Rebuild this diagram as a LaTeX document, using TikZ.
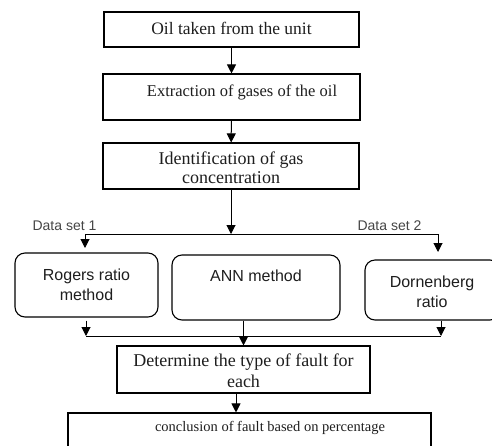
\documentclass[tikz,border=0pt]{standalone}
\usepackage{fontspec}
\setmainfont{Liberation Serif}
\newfontfamily\flowsans{Liberation Sans}
\usepackage{xcolor}
\usetikzlibrary{arrows.meta, positioning, calc}
\definecolor{FlowInk}{RGB}{0, 0, 0}
\definecolor{FlowText}{RGB}{30, 30, 30}
\definecolor{FlowMuted}{RGB}{70, 70, 70}

\tikzset{
  flowbox/.style={draw=FlowInk, line width=1.1pt, inner sep=0pt},
  methodbox/.style={flowbox, rounded corners=10pt},
  flowarrow/.style={draw=FlowInk, line width=1pt, -{Triangle[length=9pt, width=9pt]}},
  flowline/.style={draw=FlowInk, line width=1pt}
}

\begin{document}
\begin{tikzpicture}[x=1pt,y=-1pt]
  \path[use as bounding box] (0,0) rectangle (492,445);
  \fill[white] (0,0) rectangle (492,445);

  \node[flowbox, minimum width=255, minimum height=35] (oil) at (231.5,29.5) {};
  \node[flowbox, minimum width=257, minimum height=46] (extract) at (231.5,97) {};
  \node[flowbox, minimum width=256, minimum height=46] (ident) at (231,166) {};
  \node[methodbox, minimum width=143, minimum height=64] (rogers) at (86.5,285) {};
  \node[methodbox, minimum width=168, minimum height=65] (ann) at (256,287.5) {};
  \node[methodbox, minimum width=135, minimum height=60] (dorn) at (432.5,290) {};
  \node[flowbox, minimum width=253, minimum height=47] (fault) at (243.5,369.5) {};
  \node[flowbox, minimum width=363, minimum height=50] (concl) at (249.5,438) {};

  \node[align=center, text=FlowText, font=\fontsize{17.5}{19}\selectfont] (oil-t) at (231.5,28) {Oil taken from the unit};
  \node[align=center, text=FlowText, font=\fontsize{16.5}{18}\selectfont] (extract-t) at (242,92) {Extraction of gases of the oil};
  \node[align=center, text=FlowText, font=\fontsize{18}{19}\selectfont] (ident-t) at (231,168) {Identification of gas\\ concentration};
  \node[align=center, text=FlowText, font=\fontsize{16}{20}\selectfont\flowsans] (rogers-t) at (86.5,285) {Rogers ratio\\ method};
  \node[align=center, text=FlowText, font=\fontsize{16}{20}\selectfont\flowsans] (ann-t) at (256,276) {ANN method};
  \node[align=center, text=FlowText, font=\fontsize{16}{20}\selectfont\flowsans] (dorn-t) at (432,292) {Dornenberg\\ ratio};
  \node[align=center, text=FlowText, font=\fontsize{18}{21}\selectfont] (fault-t) at (243.5,371) {Determine the type of fault for\\ each};
  \node[align=center, text=FlowText, font=\fontsize{14.5}{17}\selectfont] (concl-t) at (270,428) {conclusion of fault based on percentage};

  \node[text=FlowMuted, font=\fontsize{14}{16}\selectfont\flowsans] (set1) at (64.5,226) {Data set 1};
  \node[text=FlowMuted, font=\fontsize{14}{16}\selectfont\flowsans] (set2) at (389.5,226) {Data set 2};

  \coordinate (split) at (231,234);
  \coordinate (split-l) at (85,234);
  \coordinate (split-r) at (438,234);
  \coordinate (merge-l) at (86,336);
  \coordinate (merge-r) at (441,336);

  \draw[flowarrow] (oil) -- (extract);
  \draw[flowarrow] (extract) -- (ident);
  \draw[flowarrow] (ident) -- (split);
  \draw[flowline] (split-l) -- (split-r);
  \draw[flowarrow] (split-l) -- ++(0,14);
  \draw[flowarrow] (split-r) -- ++(0,18);

  \draw[flowarrow] (rogers.south -| merge-l) ++(0,3) -- (merge-l);
  \draw[flowarrow] (dorn.south -| merge-r) -- (merge-r);
  \draw[flowline] (merge-l) -- (merge-r);
  \draw[flowarrow] (ann.south -| fault.north) -- (fault.north);
  \draw[flowarrow] ([xshift=-7.5]fault.south) -- ([xshift=-7.5]fault.south |- concl.north);
\end{tikzpicture}
\end{document}
